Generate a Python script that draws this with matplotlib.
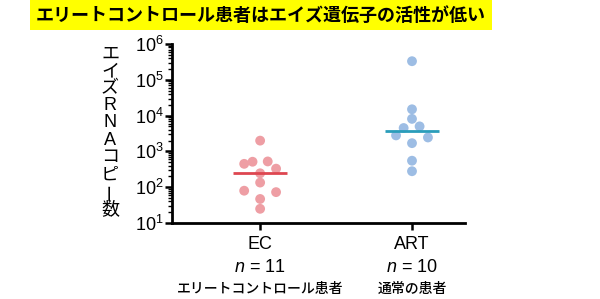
import numpy as np
import matplotlib
matplotlib.use('Agg')
import matplotlib.pyplot as plt

plt.rcParams['font.family'] = ['Liberation Sans', 'Noto Sans CJK JP', 'DejaVu Sans']
plt.rcParams['mathtext.fontset'] = 'custom'
plt.rcParams['mathtext.rm'] = 'Liberation Sans'
plt.rcParams['mathtext.it'] = 'Liberation Sans:italic'

title = 'エリートコントロール患者はエイズ遺伝子の活性が低い'
ylabel = 'エイズRNAコピー数'
groups = ['EC', 'ART']
group_n = [11, 10]
group_jp = ['エリートコントロール患者', '通常の患者']

# RNA copies
ec_values = [2000, 450, 515, 525, 330, 245, 135, 80, 73, 47, 25]
art_values = [330000, 15000, 8100, 4500, 5000, 2800, 2450, 1700, 550, 280]

# horizontal scatter of the dots (in category units)
ec_offsets = [0, -0.105, -0.05, 0.05, 0.105, 0, 0, -0.105, 0.105, 0, 0]
art_offsets = [0, 0, 0, -0.055, 0.05, -0.105, 0.105, 0, 0, 0]

dot_colors = ['#EE9EA4', '#9DBDE4']
line_colors = ['#DE4650', '#2A9DBA']

fig = plt.figure(figsize=(6, 2.99), dpi=100)
ax = fig.add_axes([0.287, 0.254, 0.488, 0.599])

for i, (vals, offs) in enumerate([(ec_values, ec_offsets), (art_values, art_offsets)]):
    xs = i + np.array(offs)
    ax.scatter(xs, vals, s=50, color=dot_colors[i], edgecolors='none', zorder=2)
    med = np.median(vals)
    ax.plot([i - 0.18, i + 0.18], [med, med], color=line_colors[i], lw=2, zorder=3,
            solid_capstyle='butt')

ax.set_yscale('log')
ax.set_ylim(10, 1e6)
ax.set_xlim(-0.579, 1.349)
ax.set_xticks([0, 1])
ax.set_xticklabels([])
ax.set_yticks([10 ** k for k in range(1, 7)])
ax.set_yticklabels(['$10^{%d}$' % k for k in range(1, 7)], fontsize=13)
ax.spines['top'].set_visible(False)
ax.spines['right'].set_visible(False)
for s in ['left', 'bottom']:
    ax.spines[s].set_linewidth(2)
ax.tick_params(axis='y', which='major', length=5, width=1.8, pad=1)
ax.tick_params(axis='y', which='minor', length=3, width=1)
ax.tick_params(axis='x', length=5, width=1.8)

for i in range(2):
    ax.text(i, -0.07, groups[i], transform=ax.get_xaxis_transform(), ha='center', va='top',
            fontsize=13)
    ax.text(i, -0.2, '$\\it{n}$ = %d' % group_n[i], transform=ax.get_xaxis_transform(),
            ha='center', va='top', fontsize=13)
    ax.text(i, -0.33, group_jp[i], transform=ax.get_xaxis_transform(), ha='center', va='top',
            fontsize=10, fontweight='medium', family=['Noto Sans CJK JP', 'DejaVu Sans'])

# vertical (tategaki) y label
y0, y1 = 54, 209
chars = list(ylabel)
for k, ch in enumerate(chars):
    ypix = y0 + (y1 - y0) * k / (len(chars) - 1)
    rot = 90 if ch == 'ー' else 0
    fam = ['Liberation Sans'] if ch in 'RNA' else ['Noto Sans CJK JP', 'DejaVu Sans']
    fig.text(110 / 600, 1 - ypix / 299, ch, ha='center', va='center', fontsize=13,
             rotation=rot, family=fam)

fig.text(261 / 600, 1 - 15 / 299, title, ha='center', va='center', fontsize=13,
         fontweight='bold', family=['Noto Sans CJK JP', 'DejaVu Sans'],
         bbox=dict(facecolor='#FFFF00', edgecolor='none', pad=4))

fig.savefig('out.png', dpi=100)
